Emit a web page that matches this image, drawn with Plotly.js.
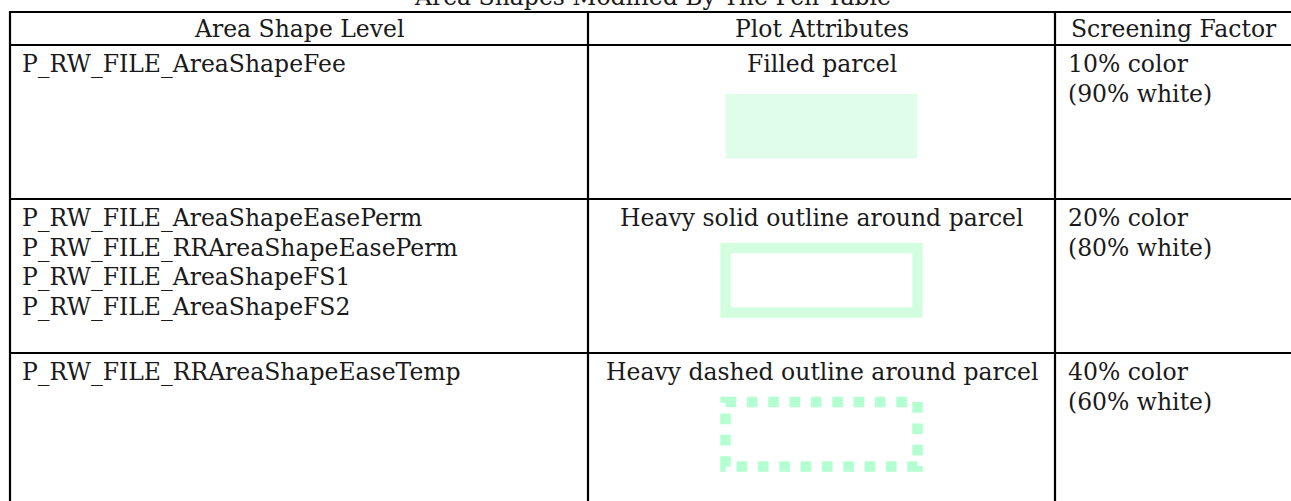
<!DOCTYPE html>
<html>
<head>
<meta charset="utf-8">
<script src="https://cdn.plot.ly/plotly-3.0.1.min.js"></script>
<style>
  html, body { margin: 0; padding: 0; background: #ffffff; overflow: hidden; }
  #chart { width: 1291px; height: 501px; }
</style>
</head>
<body>
<div id="chart"></div>
<script>
// ---- content ----
const tableTitle = "Area Shapes Modified By The Pen Table";
const headers = ["Area Shape Level", "Plot Attributes", "Screening Factor"];
const levelNames = [
  ["P_RW_FILE_AreaShapeFee"],
  ["P_RW_FILE_AreaShapeEasePerm", "P_RW_FILE_RRAreaShapeEasePerm", "P_RW_FILE_AreaShapeFS1", "P_RW_FILE_AreaShapeFS2"],
  ["P_RW_FILE_RRAreaShapeEaseTemp"]
];
const plotAttributes = ["Filled parcel", "Heavy solid outline around parcel", "Heavy dashed outline around parcel"];
const screening = [
  ["10% color", "(90% white)"],
  ["20% color", "(80% white)"],
  ["40% color", "(60% white)"]
];
const swatchKinds = ["fill", "solid", "dash"];
const swatchColors = ["#dffde9", "#d2fedf", "#b3ffd1"];

// ---- layout geometry (pixels) ----
const W = 1291, H = 501;
const colEdges = [10, 588, 1055, 1300];
const rowEdges = [12, 45, 199, 353, 520];
const FONT = {family: "DejaVu Serif, serif", size: 23.5, color: "#1a1a1a"};
const lineGap = 29.5;
const firstLineOffset = 19;
const padX = 10;
const swatch = {halfW: 96, top: 49, h: 64.5, width: 10.5};

const shapes = [];
const annotations = [];

// table rules
const ruleStyle = {color: "#000000", width: 2.2};
rowEdges.slice(0, 4).forEach(y => {
  shapes.push({type: "line", xref: "x", yref: "y", x0: colEdges[0] - 1, x1: W + 5, y0: y, y1: y, line: ruleStyle, layer: "above"});
});
colEdges.slice(0, 3).forEach(x => {
  shapes.push({type: "line", xref: "x", yref: "y", x0: x, x1: x, y0: rowEdges[0] - 1, y1: H + 5, line: ruleStyle, layer: "above"});
});

// title (its top is cut off by the top of the picture, as in the reference)
annotations.push({text: tableTitle, x: 652, y: 1 + 3 / H, xref: "x", yref: "paper",
  xanchor: "center", yanchor: "middle", showarrow: false, font: FONT});

// headers
headers.forEach((h, i) => {
  const right = i === 2 ? 1293 : colEdges[i + 1];
  annotations.push({text: h, x: (colEdges[i] + right) / 2, y: (rowEdges[0] + rowEdges[1]) / 2 + 0.5,
    xref: "x", yref: "y", xanchor: "center", yanchor: "middle", showarrow: false, font: FONT});
});

// body rows
levelNames.forEach((lines, r) => {
  const top = rowEdges[r + 1];
  lines.forEach((t, k) => {
    annotations.push({text: t, x: colEdges[0] + padX, y: top + firstLineOffset + k * lineGap,
      xref: "x", yref: "y", xanchor: "left", yanchor: "middle", showarrow: false, font: FONT});
  });
  annotations.push({text: plotAttributes[r], x: (colEdges[1] + colEdges[2]) / 2, y: top + firstLineOffset,
    xref: "x", yref: "y", xanchor: "center", yanchor: "middle", showarrow: false, font: FONT});
  screening[r].forEach((t, k) => {
    annotations.push({text: t, x: colEdges[2] + padX + 1, y: top + firstLineOffset + k * lineGap,
      xref: "x", yref: "y", xanchor: "left", yanchor: "middle", showarrow: false, font: FONT});
  });

  // swatch
  const cx = (colEdges[1] + colEdges[2]) / 2;
  const x0 = cx - swatch.halfW, x1 = cx + swatch.halfW;
  const y0 = top + swatch.top, y1 = y0 + swatch.h;
  const kind = swatchKinds[r], col = swatchColors[r];
  if (kind === "fill") {
    shapes.push({type: "rect", xref: "x", yref: "y", x0: x0, x1: x1, y0: y0, y1: y1,
      fillcolor: col, line: {width: 0}, layer: "below"});
  } else {
    const p = `M${x0},${y0} H${x1} V${y1} H${x0} Z`;
    shapes.push({type: "path", xref: "x", yref: "y", path: p, fillcolor: "rgba(0,0,0,0)",
      line: {color: col, width: swatch.width, dash: kind === "dash" ? "10.67px,10.67px" : "solid"}, layer: "below"});
  }
});

const layout = {
  width: W, height: H,
  margin: {l: 0, r: 0, t: 0, b: 0, pad: 0},
  paper_bgcolor: "#ffffff", plot_bgcolor: "#ffffff",
  showlegend: false,
  xaxis: {range: [0, W], visible: false, fixedrange: true},
  yaxis: {range: [H, 0], visible: false, fixedrange: true},
  shapes: shapes,
  annotations: annotations
};

Plotly.newPlot("chart", [{type: "scatter", x: [], y: [], mode: "markers", hoverinfo: "skip"}], layout,
  {staticPlot: true, displayModeBar: false});
</script>
</body>
</html>
